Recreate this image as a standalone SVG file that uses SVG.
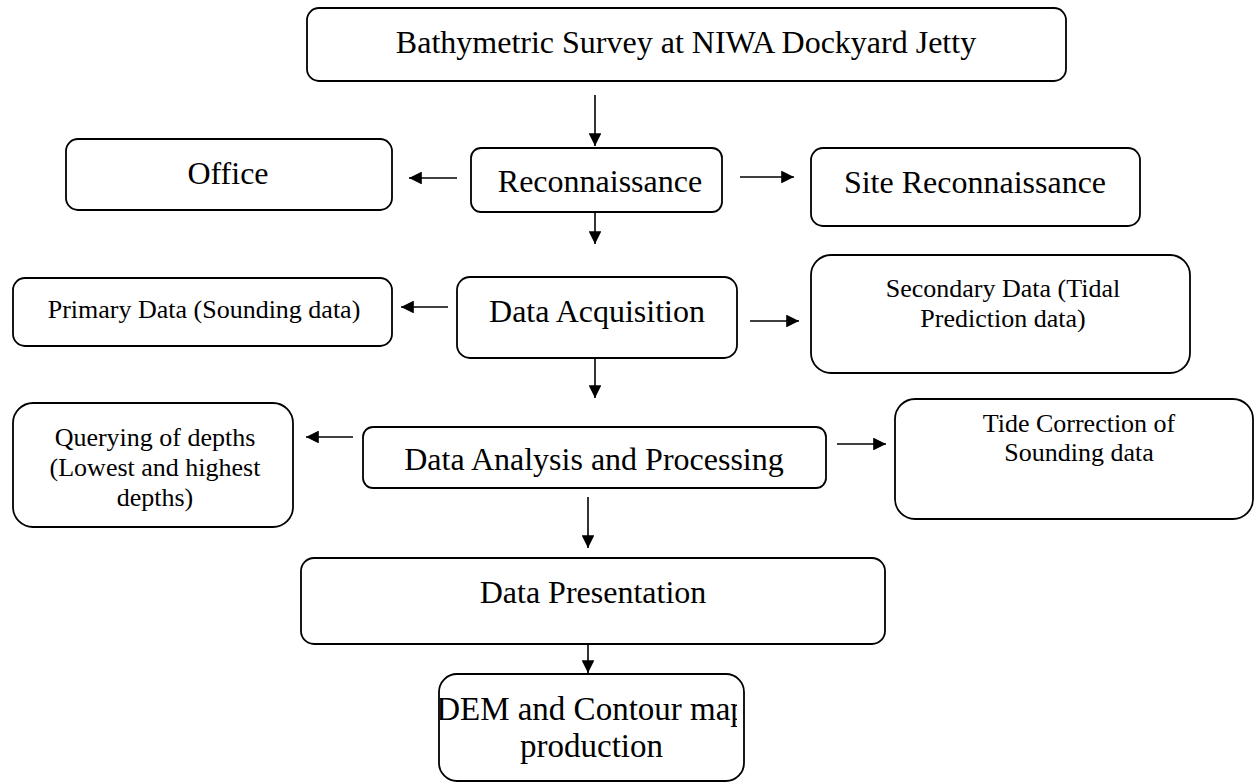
<svg xmlns="http://www.w3.org/2000/svg" width="1260" height="783" viewBox="0 0 1260 783">
  <style>
    .box { fill: #ffffff; stroke: #000000; stroke-width: 1.8; }
    .lbl { font-family: "Liberation Serif", "Times New Roman", serif; fill: #000000; text-anchor: middle; }
    .big { font-size: 32px; }
    .sm { font-size: 26px; }
    .con { stroke: #000000; stroke-width: 1.6; fill: none; marker-end: url(#head); }
  </style>
  <defs>
    <marker id="head" viewBox="0 0 10 10" refX="10" refY="5" markerWidth="8" markerHeight="8" markerUnits="strokeWidth" orient="auto">
      <path d="M0,0 L10,5 L0,10 Z" fill="#000000"/>
    </marker>
    <clipPath id="demClip">
      <rect x="440" y="674" width="297" height="108"/>
    </clipPath>
  </defs>

  <rect width="1260" height="783" fill="#ffffff"/>

  <!-- connectors -->
  <g id="connectors">
    <line class="con" x1="595" y1="95" x2="595" y2="146"/>
    <line class="con" x1="457" y1="178" x2="409" y2="178"/>
    <line class="con" x1="740" y1="177" x2="794" y2="177"/>
    <line class="con" x1="595" y1="195" x2="595" y2="244"/>
    <line class="con" x1="448" y1="307" x2="401" y2="307"/>
    <line class="con" x1="750" y1="321" x2="799" y2="321"/>
    <line class="con" x1="595" y1="348" x2="595" y2="398"/>
    <line class="con" x1="353" y1="437" x2="306" y2="437"/>
    <line class="con" x1="837" y1="444" x2="886" y2="444"/>
    <line class="con" x1="588" y1="497" x2="588" y2="548"/>
    <line class="con" x1="588" y1="622" x2="588" y2="673"/>
  </g>

  <g id="survey">
    <rect class="box" x="307" y="8" width="759" height="73" rx="12"/>
    <text class="lbl big" x="686" y="53">Bathymetric Survey at NIWA Dockyard Jetty</text>
  </g>

  <g id="office">
    <rect class="box" x="66" y="139" width="326" height="71" rx="12"/>
    <text class="lbl big" x="228" y="184">Office</text>
  </g>

  <g id="reconnaissance">
    <rect class="box" x="471" y="148" width="251" height="64" rx="10"/>
    <text class="lbl big" x="600" y="192">Reconnaissance</text>
  </g>

  <g id="site-reconnaissance">
    <rect class="box" x="811" y="148" width="329" height="78" rx="12"/>
    <text class="lbl big" x="975" y="193">Site Reconnaissance</text>
  </g>

  <g id="primary-data">
    <rect class="box" x="13" y="278" width="379" height="68" rx="12"/>
    <text class="lbl sm" x="204" y="318">Primary Data (Sounding data)</text>
  </g>

  <g id="data-acquisition">
    <rect class="box" x="457" y="277" width="280" height="81" rx="13"/>
    <text class="lbl big" x="597" y="322">Data Acquisition</text>
  </g>

  <g id="secondary-data">
    <rect class="box" x="811" y="255" width="379" height="118" rx="20"/>
    <text class="lbl sm" x="1003" y="297">Secondary Data (Tidal</text>
    <text class="lbl sm" x="1003" y="327">Prediction data)</text>
  </g>

  <g id="querying">
    <rect class="box" x="13" y="403" width="280" height="124" rx="20"/>
    <text class="lbl sm" x="155" y="446">Querying of depths</text>
    <text class="lbl sm" x="155" y="476">(Lowest and highest</text>
    <text class="lbl sm" x="155" y="506">depths)</text>
  </g>

  <g id="data-analysis">
    <rect class="box" x="363" y="427" width="463" height="61" rx="10"/>
    <text class="lbl big" x="594" y="470">Data Analysis and Processing</text>
  </g>

  <g id="tide-correction">
    <rect class="box" x="895" y="399" width="358" height="120" rx="20"/>
    <text class="lbl sm" x="1079" y="432">Tide Correction of</text>
    <text class="lbl sm" x="1079" y="461">Sounding data</text>
  </g>

  <g id="data-presentation">
    <rect class="box" x="301" y="558" width="584" height="86" rx="13"/>
    <text class="lbl big" x="593" y="603">Data Presentation</text>
  </g>

  <g id="dem-contour">
    <rect class="box" x="439" y="674" width="305" height="107" rx="18"/>
    <g clip-path="url(#demClip)">
      <text class="lbl" font-size="33" x="591.5" y="720">DEM and Contour map</text>
    </g>
    <text class="lbl" font-size="33" x="591.5" y="757">production</text>
  </g>
</svg>
